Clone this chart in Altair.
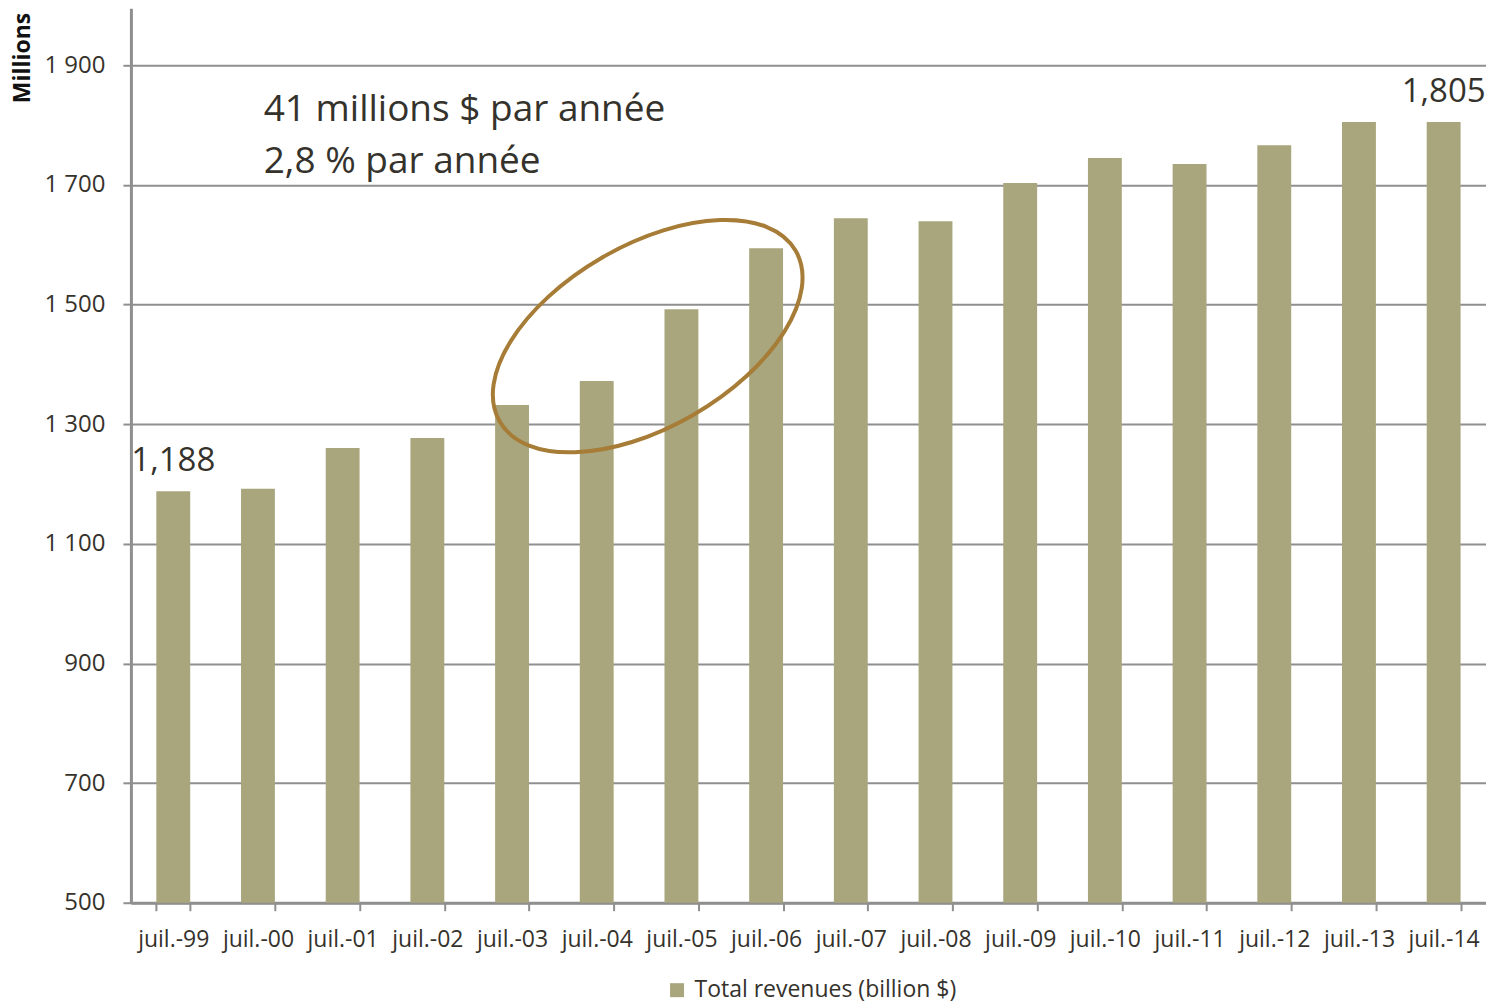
import altair as alt
import pandas as pd

months = ["juil.-99", "juil.-00", "juil.-01", "juil.-02", "juil.-03", "juil.-04",
          "juil.-05", "juil.-06", "juil.-07", "juil.-08", "juil.-09", "juil.-10",
          "juil.-11", "juil.-12", "juil.-13", "juil.-14"]
revenues = [1188, 1192, 1260, 1277, 1332, 1372, 1492, 1594, 1644, 1639, 1703,
            1745, 1735, 1766, 1805, 1805]
series_name = "Total revenues (billion $)"
y_ticks = [500, 700, 900, 1100, 1300, 1500, 1700, 1900]

end_months = ["juil.-99", "juil.-14"]
end_values = [1188, 1805]
end_texts = ["1,188", "1,805"]

annot_texts = ["41 millions $ par année", "2,8 % par année"]
annot_months = ["juil.-01", "juil.-01"]
annot_values = [1825, 1738]

ellipse_month = ["juil.-04"]
ellipse_value = [1447]

FONT = "Open Sans"
TEXT = "#35322c"
GRID = "#8f8f8f"
BAR = "#A9A67D"

df = pd.DataFrame({"month": months, "revenue": revenues, "series": series_name})
df_end = pd.DataFrame({"month": end_months, "revenue": end_values, "label": end_texts})
df_ann = pd.DataFrame({"month": annot_months, "revenue": annot_values, "label": annot_texts})
df_ell = pd.DataFrame({"month": ellipse_month, "revenue": ellipse_value})

x = alt.X("month:N", sort=months,
          scale=alt.Scale(paddingInner=0.6, paddingOuter=0.3),
          axis=alt.Axis(title=None, labelAngle=0, tickBand="extent", grid=False,
                        domainColor=GRID, domainWidth=3, tickColor=GRID, tickWidth=2,
                        tickSize=8, labelFontSize=23, labelPadding=18,
                        labelColor=TEXT, labelFont=FONT))
y = alt.Y("revenue:Q",
          scale=alt.Scale(domain=[500, 1995], nice=False, zero=False),
          axis=alt.Axis(values=y_ticks,
                        labelExpr="replace(format(datum.value, ','), ',', ' ')",
                        title="Millions", titleAngle=270,
                        titleX=-101, titleY=4, titleAlign="right",
                        titleBaseline="alphabetic",
                        titleFontSize=23, titleFontWeight="bold", titleFont=FONT,
                        titleColor="#111111",
                        grid=True, gridColor=GRID, gridWidth=2,
                        domainColor=GRID, domainWidth=3, tickColor=GRID,
                        tickWidth=2, tickSize=8, labelFontSize=24, labelPadding=18,
                        labelColor=TEXT, labelFont=FONT))

bars = alt.Chart(df).mark_bar(clip=True).encode(
    x=x, y=y,
    color=alt.Color("series:N", scale=alt.Scale(range=[BAR]),
                    legend=alt.Legend(title=None, orient="none", direction="horizontal",
                                      legendX=535, legendY=971,
                                      symbolType="square",
                                      symbolSize=196, symbolStrokeWidth=0,
                                      labelFontSize=23, labelFont=FONT, labelLimit=0,
                                      labelColor=TEXT, padding=0, labelOffset=6))
)

end_labels = alt.Chart(df_end).mark_text(
    baseline="alphabetic", dy=-20, fontSize=33, font=FONT, color=TEXT
).encode(x=alt.X("month:N", sort=months), y="revenue:Q", text="label:N")

annots = alt.Chart(df_ann).mark_text(
    align="left", baseline="middle", dx=-79, fontSize=37, font=FONT, color=TEXT
).encode(x=alt.X("month:N", sort=months), y="revenue:Q", text="label:N")

ellipse_path = ("M 1 0 C 1 0.294 0.552 0.532 0 0.532 C -0.552 0.532 -1 0.294 -1 0 "
                "C -1 -0.294 -0.552 -0.532 0 -0.532 C 0.552 -0.532 1 -0.294 1 0 Z")
ellipse = alt.Chart(df_ell).mark_point(
    shape=ellipse_path, size=116964, angle=330, filled=False,
    stroke="#A67C36", strokeWidth=4, opacity=1, xOffset=51
).encode(x=alt.X("month:N", sort=months), y="revenue:Q")

chart = alt.layer(bars, end_labels, annots, ellipse).properties(
    width=1356, height=895,
    padding={"left": 4, "top": 0, "right": 0, "bottom": 0}
).configure(font=FONT).configure_view(stroke="transparent", strokeWidth=0)

chart.save("out.html", embed_options={"renderer": "svg", "actions": False})
